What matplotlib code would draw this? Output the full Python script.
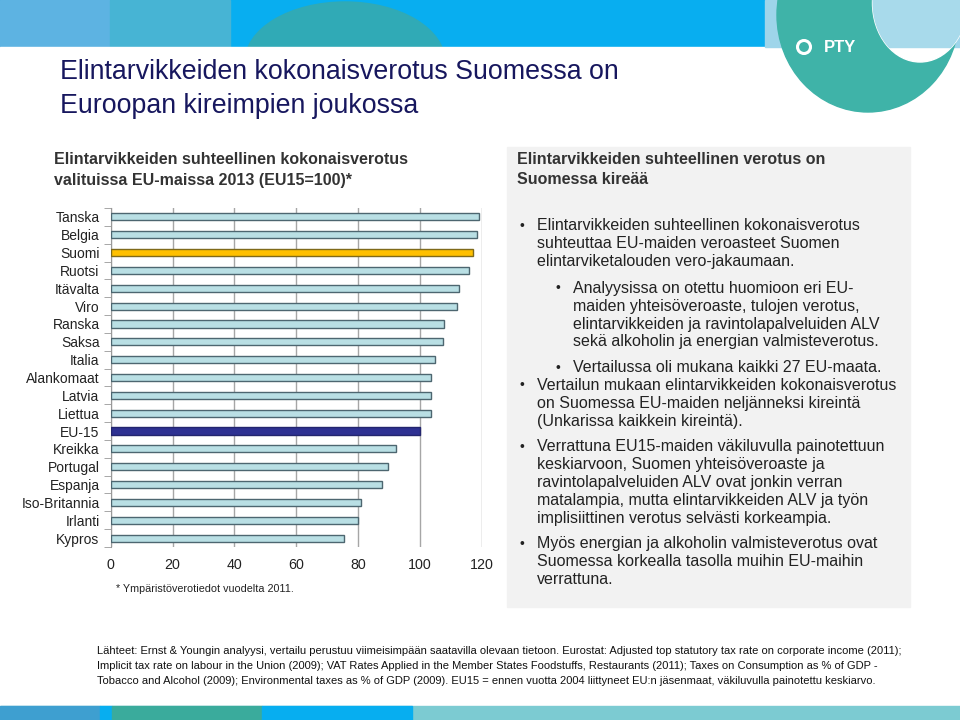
import matplotlib
matplotlib.use('Agg')
import matplotlib.pyplot as plt
from matplotlib.patches import Rectangle, Ellipse
import numpy as np

# data
maat = ['Tanska', 'Belgia', 'Suomi', 'Ruotsi', 'Itävalta', 'Viro', 'Ranska', 'Saksa',
        'Italia', 'Alankomaat', 'Latvia', 'Liettua', 'EU-15', 'Kreikka', 'Portugal',
        'Espanja', 'Iso-Britannia', 'Irlanti', 'Kypros']
arvot = [119.2, 118.5, 117.2, 115.8, 112.5, 111.9, 107.8, 107.5,
         104.8, 103.6, 103.6, 103.5, 100.0, 92.2, 89.8,
         87.9, 81.1, 80.1, 75.5]
x_ticks = [0, 20, 40, 60, 80, 100, 120]

otsikko = ['Elintarvikkeiden kokonaisverotus Suomessa on', 'Euroopan kireimpien joukossa']
vasen_otsikko = ['Elintarvikkeiden suhteellinen kokonaisverotus',
                 'valituissa EU-maissa 2013 (EU15=100)*']
oikea_otsikko = ['Elintarvikkeiden suhteellinen verotus on', 'Suomessa kireää']
alaviite = '* Ympäristöverotiedot vuodelta 2011.'

# (taso, rivit) ; taso 0 = paaluettelo, 1 = alaluettelo
luettelo = [
    (0, ['Elintarvikkeiden suhteellinen kokonaisverotus',
         'suhteuttaa EU-maiden veroasteet Suomen',
         'elintarviketalouden vero-jakaumaan.']),
    (1, ['Analyysissa on otettu huomioon eri EU-',
         'maiden yhteisöveroaste, tulojen verotus,',
         'elintarvikkeiden ja ravintolapalveluiden ALV',
         'sekä alkoholin ja energian valmisteverotus.']),
    (1, ['Vertailussa oli mukana kaikki 27 EU-maata.']),
    (0, ['Vertailun mukaan elintarvikkeiden kokonaisverotus',
         'on Suomessa EU-maiden neljänneksi kireintä',
         '(Unkarissa kaikkein kireintä).']),
    (0, ['Verrattuna EU15-maiden väkiluvulla painotettuun',
         'keskiarvoon, Suomen yhteisöveroaste ja',
         'ravintolapalveluiden ALV ovat jonkin verran',
         'matalampia, mutta elintarvikkeiden ALV ja työn',
         'implisiittinen verotus selvästi korkeampia.']),
    (0, ['Myös energian ja alkoholin valmisteverotus ovat',
         'Suomessa korkealla tasolla muihin EU-maihin',
         'verrattuna.']),
]
valit = [0, 9, 8, 0, 8, 8]   # kappaleiden välit pikseleinä

lahteet = ['Lähteet: Ernst & Youngin analyysi, vertailu perustuu viimeisimpään saatavilla olevaan tietoon. Eurostat: Adjusted top statutory tax rate on corporate income (2011);',
           'Implicit tax rate on labour in the Union (2009); VAT Rates Applied in the Member States Foodstuffs, Restaurants (2011); Taxes on Consumption as % of GDP -',
           'Tobacco and Alcohol (2009); Environmental taxes as % of GDP (2009). EU15 = ennen vuotta 2004 liittyneet EU:n jäsenmaat, väkiluvulla painotettu keskiarvo.']

plt.rcParams['font.family'] = ['Liberation Sans', 'DejaVu Sans']

fig = plt.figure(figsize=(9.6, 7.2), dpi=100)
fig.patch.set_facecolor('white')

# tausta-akseli pikselikoordinaateissa
bg = fig.add_axes([0, 0, 1, 1])
bg.set_xlim(0, 960)
bg.set_ylim(720, 0)
bg.axis('off')

# ylabanneri
bg.add_patch(Rectangle((0, 0), 960, 47, color='#08aef0', zorder=1))
bg.add_patch(Rectangle((0, 0), 110, 47, color='#5db3e2', zorder=1))
bg.add_patch(Rectangle((110, 0), 120, 47, color='#47b4d4', zorder=1))
bg.add_patch(Ellipse((345, 62), 200, 120, color='#30aab6', zorder=2))
bg.add_patch(Rectangle((0, 47), 960, 80, color='white', zorder=3))
bg.add_patch(Rectangle((765, 0), 195, 47, color='#9ed5ea', zorder=3))
bg.add_patch(Ellipse((868, 15), 182, 194, color='#3fb3a8', zorder=4))
reika = Ellipse((920, 3), 95, 118, color='white', zorder=5)
bg.add_patch(reika)
sininen = Rectangle((860, 0), 100, 47, color='#a8daeb', zorder=5.5)
bg.add_patch(sininen)
sininen.set_clip_path(reika)
bg.add_patch(Ellipse((804, 47), 13, 13, fill=False, ec='white', lw=2.2, zorder=6))
bg.text(824, 47, 'PTY', color='white', fontsize=12, fontweight='bold',
        va='center', ha='left', zorder=6)

# alabanneri
bg.add_patch(Rectangle((0, 706), 960, 14, color='#7ccbd2', zorder=1))
bg.add_patch(Rectangle((0, 706), 100, 14, color='#3e9fd0', zorder=2))
bg.add_patch(Rectangle((100, 706), 12, 14, color='#07aef0', zorder=2))
bg.add_patch(Rectangle((112, 706), 150, 14, color='#3aab9c', zorder=2))
bg.add_patch(Rectangle((262, 706), 150, 14, color='#07aef0', zorder=2))

# otsikko
for i, rivi in enumerate(otsikko):
    bg.text(60, 72 + i * 34, rivi, fontsize=19.3, color='#17175e',
            va='center', ha='left', zorder=6)

for i, rivi in enumerate(vasen_otsikko):
    bg.text(54, 160 + i * 20, rivi, fontsize=11.5, fontweight='bold', color='#333333',
            va='center', ha='left')

# oikea laatikko
bg.add_patch(Rectangle((507, 147), 403, 460, color='#f2f2f2', zorder=1))
for i, rivi in enumerate(oikea_otsikko):
    bg.text(517, 160 + i * 20, rivi, fontsize=11.5, fontweight='bold', color='#333333',
            va='center', ha='left', zorder=2)

y = 226
rivivali = 17.8
for (taso, rivit), vali in zip(luettelo, valit):
    y += vali
    xb = 519 if taso == 0 else 555
    bg.text(xb, y, '•', fontsize=10, color='#222222', va='center', ha='left', zorder=2)
    for rivi in rivit:
        bg.text(xb + 18, y, rivi, fontsize=11.5, color='#222222', va='center', ha='left', zorder=2)
        y += rivivali

for i, rivi in enumerate(lahteet):
    bg.text(97, 651 + i * 15, rivi, fontsize=8.05, color='#111111',
            va='center', ha='left')

bg.text(116, 589, alaviite, fontsize=7.75, color='#222222', va='center', ha='left')

# pylväskaavio
ax = fig.add_axes([110.7 / 960, 1 - 547 / 720, 371 / 960, 339 / 720])
ax.patch.set_alpha(0)
ypos = np.arange(len(maat))
varit = []
reunat = []
for m in maat:
    if m == 'Suomi':
        varit.append('#ffc000')
        reunat.append('#7f6a1a')
    elif m == 'EU-15':
        varit.append('#2e3192')
        reunat.append('#23256e')
    else:
        varit.append('#b9dfe4')
        reunat.append('#4d6670')
ax.barh(ypos, arvot, height=0.4, color=varit, edgecolor=reunat, linewidth=1, zorder=3)
ax.set_xlim(0, 120)
ax.set_ylim(len(maat) - 0.5, -0.5)
ax.set_xticks(x_ticks)
ax.set_xticklabels([str(t) for t in x_ticks], fontsize=10.3, color='#222222')
ax.set_yticks(ypos)
ax.set_yticklabels(maat, fontsize=10, color='#222222')
ax.set_yticks(np.arange(len(maat) + 1) - 0.5, minor=True)
ax.tick_params(axis='y', which='major', length=0, pad=8)
ax.tick_params(axis='y', which='minor', length=5, color='#999999', direction='out')
ax.tick_params(axis='x', length=0, pad=8)
ax.grid(axis='x', color='#a6a6a6', linewidth=1, zorder=0)
for s in ['top', 'right', 'bottom']:
    ax.spines[s].set_visible(False)
ax.spines['left'].set_color('#999999')

fig.savefig('out.png', dpi=100)
